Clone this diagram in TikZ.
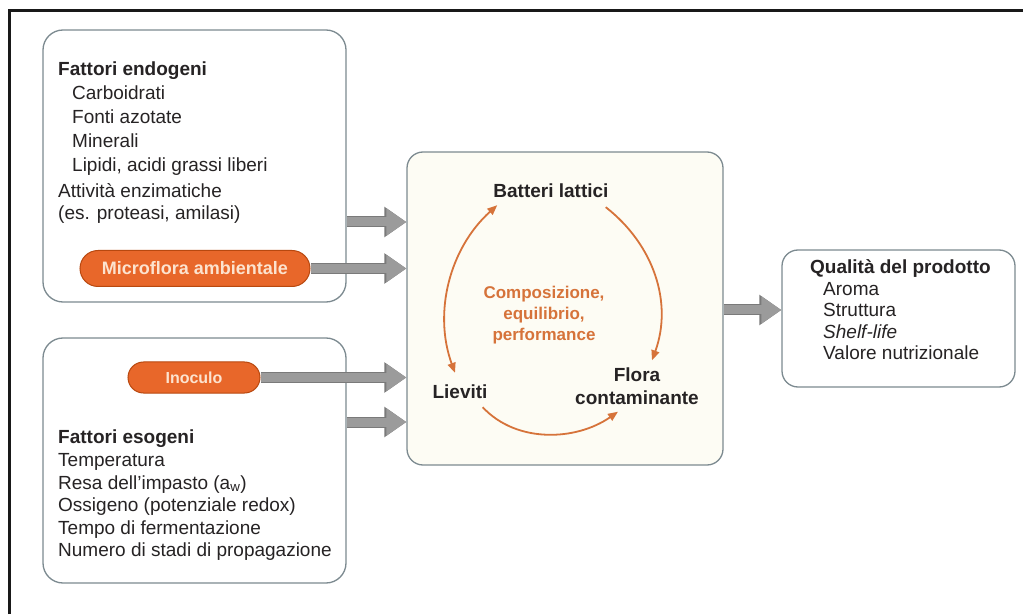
\documentclass[tikz,border=0pt]{standalone}
\usepackage{fontspec}
\setmainfont{Liberation Sans}
\usetikzlibrary{arrows.meta,shapes.misc}
\definecolor{ink}{HTML}{262324}
\definecolor{boxline}{HTML}{7C8A90}
\definecolor{pillfill}{HTML}{E8672A}
\definecolor{pillline}{HTML}{B8480F}
\definecolor{pilltext}{HTML}{FCE3CF}
\definecolor{cyclecol}{HTML}{D6733A}
\definecolor{arrowfill}{HTML}{9B9B9B}
\definecolor{arrowline}{HTML}{7A7A7A}
\definecolor{cream}{HTML}{FDFCF4}
\begin{document}
\begin{tikzpicture}[x=1pt,y=1pt,
  panel/.style={draw=boxline, line width=1.3pt, fill=white, rounded corners=20pt, inner sep=0pt},
  pill/.style={rounded rectangle, draw=pillline, line width=1pt, fill=pillfill, text=pilltext,
    font=\fontsize{18}{20}\selectfont\bfseries, inner sep=0pt},
  txt/.style={align=left, inner sep=0pt, text=ink, anchor=north west},
  lbl/.style={inner sep=0pt, text=ink, font=\fontsize{19}{23}\selectfont\bfseries, align=center},
  feed/.style={draw=arrowfill, line width=9pt, -{Triangle[length=20pt,width=26pt]},
    preaction={draw=arrowline, line width=11pt, -{Triangle[length=22pt,width=29pt]}}},
  cyc/.style={draw=cyclecol, line width=1.8pt},
  tipc/.tip={Triangle[length=10pt,width=8pt]},
]
\useasboundingbox (0,0) rectangle (1023,614);

% page frame (top and left rules only)
\draw[line width=3pt, black!90, line join=miter] (9,0) -- (9,603) -- (1023,603);

% panels
\node[panel, minimum width=303pt, minimum height=272pt] (endo) at (194.5,448) {};
\node[panel, minimum width=303pt, minimum height=245pt] (eso) at (194.5,153.5) {};
\node[panel, fill=cream, rounded corners=16pt, minimum width=316pt, minimum height=313pt] (core) at (565,305.5) {};
\node[panel, rounded corners=16pt, minimum width=233pt, minimum height=137pt] (qual) at (898.5,295.5) {};

% orange tags
\node[pill, minimum width=230pt, minimum height=36pt] (micro) at (195,345.5) {Microflora ambientale};
\node[pill, minimum width=132pt, minimum height=31pt, font=\fontsize{16}{18}\selectfont\bfseries] (ino) at (194,236.5) {Inoculo};

% panel texts
\node[txt, font=\fontsize{19}{24}\selectfont] (endotxt) at (58,552.5) {\textbf{Fattori endogeni}\\
  \hspace*{14pt}Carboidrati\\
  \hspace*{14pt}Fonti azotate\\
  \hspace*{14pt}Minerali\\
  \hspace*{14pt}Lipidi, acidi grassi liberi\\[2pt]
  Attività enzimatiche\\[-2pt]
  (es. proteasi, amilasi)};
\node[txt, font=\fontsize{19}{22.6}\selectfont] (esotxt) at (58,184) {\textbf{Fattori esogeni}\\
  Temperatura\\
  Resa dell’impasto (a\textsubscript{w})\\
  Ossigeno (potenziale redox)\\
  Tempo di fermentazione\\
  Numero di stadi di propagazione};
\node[txt, font=\fontsize{19}{21.5}\selectfont] (qualtxt) at (810,354.5) {\textbf{Qualità del prodotto}\\
  \hspace*{13pt}Aroma\\
  \hspace*{13pt}Struttura\\
  \hspace*{13pt}\textit{Shelf-life}\\
  \hspace*{13pt}Valore nutrizionale};

% microbial cycle
\node[lbl] (bat) at (551,423) {Batteri lattici};
\node[lbl, text=cyclecol, font=\fontsize{17}{21}\selectfont\bfseries] (comp) at (544,298.5) {Composizione,\\equilibrio,\\performance};
\node[lbl] (lie) at (460,222) {Lieviti};
\node[lbl] (flora) at (637,228) {Flora\\contaminante};

\draw[cyc, {tipc}-{tipc}] ([shift={(-5,12)}]lie.north) to[out=110,in=222,looseness=0.95] ([shift={(4,-7)}]bat.south west);
\draw[cyc, -{tipc}] ([shift={(-3,-9)}]bat.south east) to[out=-38,in=70,looseness=0.98] ([shift={(15,7)}]flora.north);
\draw[cyc, -{tipc}] ([shift={(-5,-8)}]lie.south east) to[out=-47,in=215,looseness=0.95] ([shift={(-19,-7)}]flora.south);

% feed arrows
\draw[feed] (endo.east |- 0,392) -- (core.west |- 0,392);
\draw[feed] (micro.east) -- (core.west |- micro.east);
\draw[feed] (ino.east) -- (core.west |- ino.east);
\draw[feed] (eso.east |- 0,192) -- (core.west |- 0,192);
\draw[feed] (core.east |- 0,304) -- (qual.west |- 0,304);
\end{tikzpicture}
\end{document}
